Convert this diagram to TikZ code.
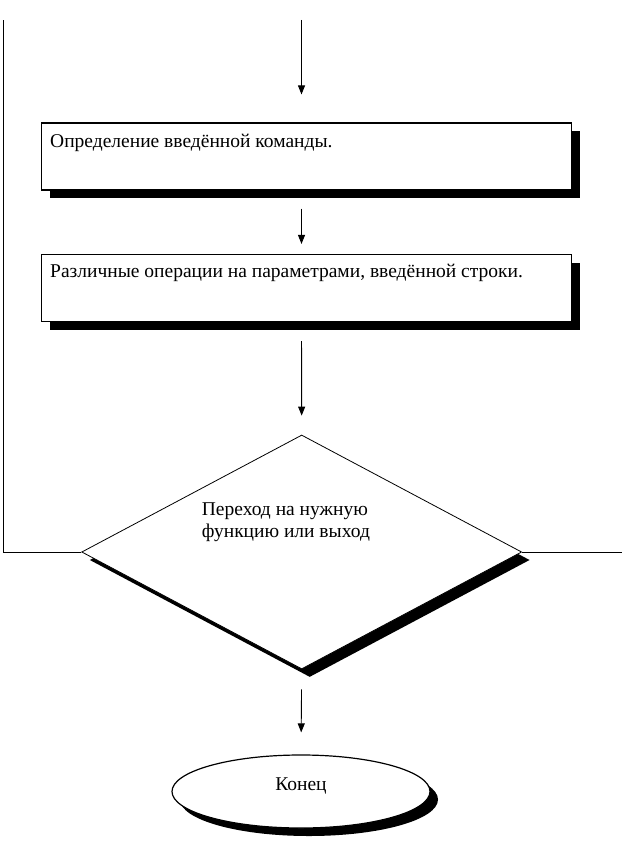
\documentclass[tikz,border=0pt]{standalone}
\usepackage{fontspec}
\setmainfont{Liberation Serif}
\usetikzlibrary{shapes.geometric,shadows,arrows.meta}
\begin{document}
\begin{tikzpicture}[x=1pt,y=-1pt,
  line/.style={line width=0.9pt},
  arr/.style={line width=0.9pt,-{Triangle[width=7pt,length=9pt]}},
  shad/.style={drop shadow={shadow xshift=8pt,shadow yshift=-8pt,fill=black,opacity=1}},
  box/.style={draw,line width=1.1pt,fill=white,minimum width=530pt,minimum height=67pt,inner sep=0pt,shad},
  dec/.style={diamond,draw,line width=0.8pt,fill=white,minimum width=440pt,minimum height=234pt,inner sep=0pt,shad},
  term/.style={ellipse,draw,line width=1.2pt,fill=white,minimum width=258pt,minimum height=73pt,inner sep=0pt,shad},
  txt/.style={inner sep=0pt,font=\fontsize{19.5}{21.5}\selectfont}]
\useasboundingbox (0,0) rectangle (622,848);
\coordinate (start) at (301.5,20);
\coordinate (ltop) at (3,20);
\coordinate (redge) at (622,20);
\node[box] (box1) at (306.6,156.5) {};
\node[box] (box2) at (306.6,288) {};
\node[dec] (dia) at (301.7,552) {};
\node[term] (end) at (301,791.5) {};
\node[txt,anchor=base west] (t1) at (50,147) {Определение введённой команды.};
\node[txt,anchor=base west] (t2) at (50,277) {Различные операции на параметрами, введённой строки.};
\node[txt,anchor=north west,align=left] (t3) at (201.7,503) {Переход на нужную\\функцию или выход};
\node[txt,anchor=base] (t4) at (301,790) {Конец};
\draw[arr,shorten >=28pt] (start) -- (box1.north -| start);
\draw[arr,shorten <=18pt,shorten >=10pt] (box1.south -| start) -- (box2.north -| start);
\draw[arr,shorten <=19pt,shorten >=19pt] (box2.south -| start) -- (dia.north);
\draw[arr,shorten <=20pt,shorten >=22pt] (dia.south) -- (end.north);
\draw[line] (dia.west) -- (dia.west -| ltop) -- (ltop);
\draw[line] (dia.east) -- (dia.east -| redge);
\end{tikzpicture}
\end{document}
